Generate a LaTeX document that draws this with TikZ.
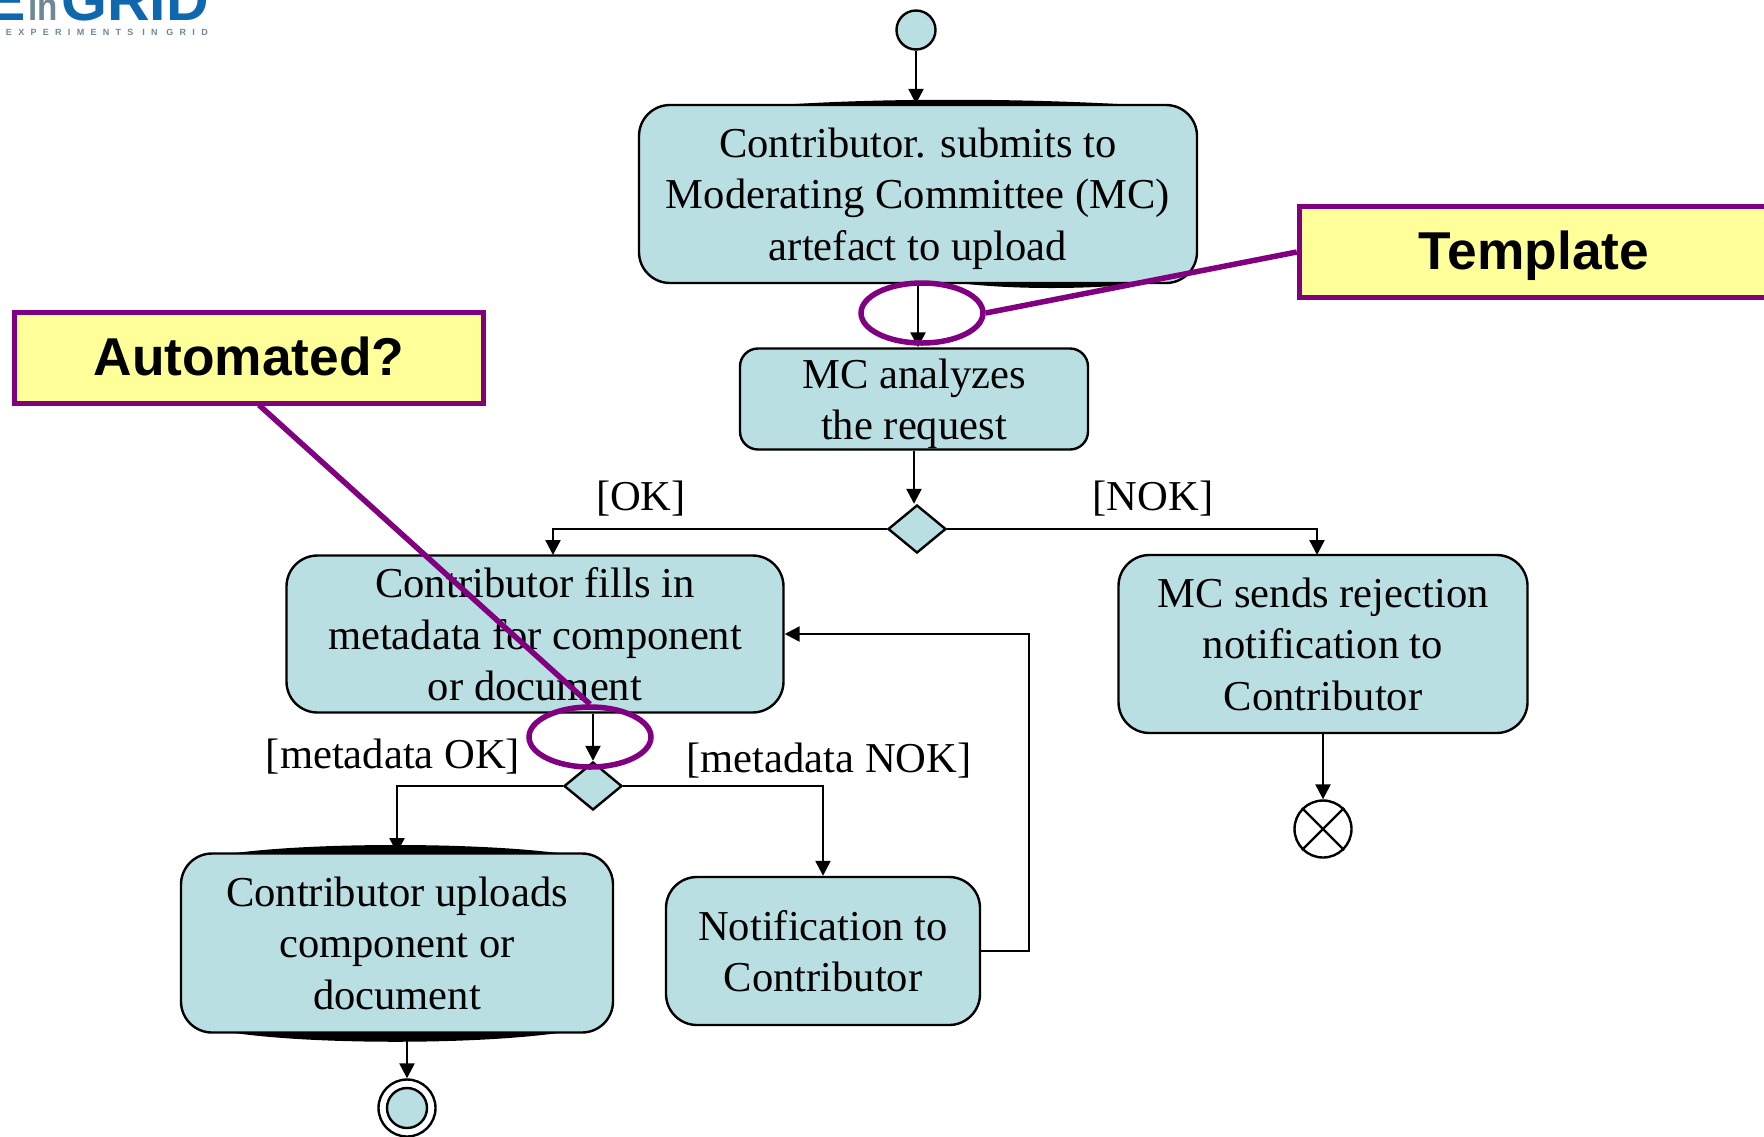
\documentclass[tikz,border=0pt]{standalone}
\usepackage{fontspec}
\setmainfont{Liberation Serif}
\setsansfont{Liberation Sans}
\usetikzlibrary{arrows.meta,shapes.geometric}
\definecolor{boxteal}{HTML}{B9DFE3}
\definecolor{notepurple}{HTML}{800080}
\definecolor{noteyellow}{HTML}{FFFF99}
\definecolor{logoblue}{HTML}{0F68AE}
\definecolor{logogrey}{HTML}{6F8896}
\tikzset{
  activity/.style={draw,line width=2.4pt,fill=boxteal,rounded corners=31pt,align=center,inner sep=0pt,
    font=\fontsize{42.6}{51.3}\selectfont},
  decision/.style={draw,line width=2.4pt,fill=boxteal,diamond,aspect=1.17,minimum width=58pt,minimum height=48pt,inner sep=0pt},
  startdot/.style={draw,line width=2.4pt,fill=boxteal,circle,minimum size=39pt,inner sep=0pt},
  guardlabel/.style={font=\fontsize{42.6}{50}\selectfont},
  note/.style={draw=notepurple,line width=5.5pt,fill=noteyellow,minimum width=469pt,minimum height=91pt,inner sep=0pt,
    text depth=3pt,font=\sffamily\bfseries\fontsize{53.3}{60}\selectfont},
  ring/.style={draw=notepurple,line width=5.5pt,ellipse,minimum width=122pt,minimum height=60pt,inner sep=0pt},
  flow/.style={line width=2.4pt,-{Triangle[length=15pt,width=15pt]}},
  noteline/.style={draw=notepurple,line width=5.5pt},
  logo/.style={anchor=base,inner sep=0pt,font=\sffamily\bfseries\fontsize{59}{60}\selectfont}
}
\begin{document}
\begin{tikzpicture}[x=1pt,y=-1pt]
\useasboundingbox (0,0) rectangle (1764,1136);
\clip (0,0) rectangle (1764,1136);

\node[logo,text=logoblue,anchor=base east] (logoe) at (26,20) {E};
\node[anchor=base,inner sep=0pt,text=logogrey,font=\sffamily\bfseries\fontsize{40}{40}\selectfont,xscale=.83] (logoin) at (43,20) {in};
\node[logo,text=logoblue,anchor=base west] (logogrid) at (61,20) {GRID};
\node[anchor=base east,inner sep=0pt,text=logogrey,font=\sffamily\bfseries\fontsize{9}{12}\selectfont] (logotext) at (208,35) {\addfontfeature{LetterSpace=70}S EXPERIMENTS IN GRID};

\fill (780,105) .. controls (880,98) and (1020,98) .. (1135,105) -- cycle;
\fill (950,282) .. controls (1010,290) and (1090,290) .. (1160,282) -- cycle;
\fill (228,854) .. controls (310,842) and (480,842) .. (565,854) -- cycle;
\fill (228,1032) .. controls (310,1045) and (480,1045) .. (565,1032) -- cycle;

\node[startdot] (start) at (916,30) {};
\node[activity,minimum width=558pt,minimum height=178pt,text depth=-5pt] (submit) at (918,194) {Contributor. submits to\\Moderating Committee (MC)\\artefact to upload};
\node[activity,minimum width=348pt,minimum height=101pt,rounded corners=18pt,text depth=-6pt] (analyze) at (914,399) {MC analyzes\\the request};
\node[decision] (okcheck) at (917,529) {};
\node[activity,minimum width=497pt,minimum height=157pt,text depth=-2pt] (metadata) at (535,634) {Contributor fills in\\metadata for component\\or document};
\node[activity,minimum width=409pt,minimum height=178pt,text depth=-4pt] (reject) at (1323,644) {MC sends rejection\\notification to\\Contributor};
\node[decision] (metacheck) at (593,786) {};
\node[activity,minimum width=432pt,minimum height=179pt,text depth=-14pt] (upload) at (397,943) {Contributor uploads\\component or\\document};
\node[activity,minimum width=314pt,minimum height=148pt,text depth=-7pt] (notify) at (823,951) {Notification to\\Contributor};

\node[draw,line width=2.4pt,circle,minimum size=57pt,inner sep=0pt] (final) at (407,1108) {};
\node[draw,line width=2.4pt,circle,fill=boxteal,minimum size=40pt,inner sep=0pt] (finaldot) at (407,1108) {};
\node[draw,line width=2.4pt,circle,minimum size=57pt,inner sep=0pt] (rejected) at (1323,829) {};
\draw[line width=2.4pt] (rejected.north west) -- (rejected.south east);
\draw[line width=2.4pt] (rejected.north east) -- (rejected.south west);

\coordinate (okin) at (553,555);
\coordinate (nokin) at (1317,555);
\coordinate (uploadin) at (397,853);
\coordinate (uploadout) at (407,1033);
\coordinate (loopturn) at (1029,951);

\draw[flow] (start.south) -- (start.south |- submit.north);
\draw[flow] (submit.south) -- (submit.south |- analyze.north);
\draw[flow] (analyze.south) -- (analyze.south |- okcheck.north);
\draw[flow] (okcheck.west) -| (okin);
\draw[flow] (okcheck.east) -| (nokin);
\draw[flow] (metacheck.north |- metadata.south) -- (metacheck.north);
\draw[flow] (metacheck.west) -| (uploadin);
\draw[flow] (metacheck.east) -| (notify.north);
\draw[flow] (notify.east) -- (loopturn) |- (metadata.east);
\draw[flow] (reject.south) -- (rejected.north);
\draw[flow] (uploadout) -- (final.north);

\node[guardlabel] (oklabel) at (641,499) {[OK]};
\node[guardlabel] (noklabel) at (1153,499) {[NOK]};
\node[guardlabel] (metaok) at (393,757) {[metadata OK]};
\node[guardlabel] (metanok) at (829,761) {[metadata NOK]};

\node[note] (template) at (1534,252) {Template};
\node[note] (automated) at (249,358) {Automated?};
\node[ring] (ringtop) at (922,313) {};
\node[ring] (ringlow) at (590,737) {};
\draw[noteline] (template.west) -- (ringtop.east);
\coordinate (autoout) at (259,405);
\draw[noteline] (autoout) -- (ringlow.north);
\end{tikzpicture}
\end{document}
